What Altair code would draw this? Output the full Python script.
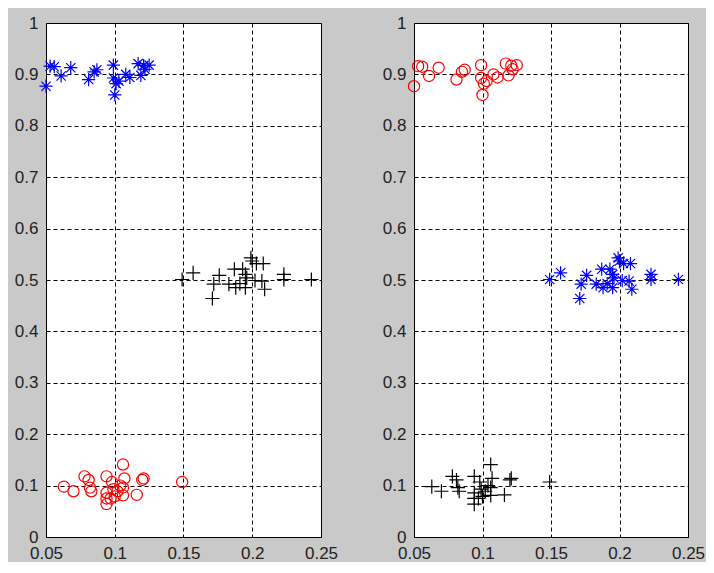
import altair as alt
import pandas as pd

# Cluster A (top)
top_x = [0.050, 0.053, 0.056, 0.061, 0.068, 0.081, 0.085, 0.087, 0.099, 0.099,
         0.100, 0.101, 0.103, 0.108, 0.111, 0.117, 0.119, 0.121, 0.125, 0.122]
top_y = [0.877, 0.916, 0.915, 0.897, 0.913, 0.890, 0.905, 0.909, 0.918, 0.893,
         0.860, 0.882, 0.887, 0.900, 0.894, 0.921, 0.898, 0.917, 0.918, 0.910]

# Cluster B (middle)
mid_x = [0.149, 0.157, 0.172, 0.171, 0.176, 0.183, 0.187, 0.188, 0.193, 0.195,
         0.196, 0.195, 0.191, 0.199, 0.200, 0.203, 0.208, 0.202, 0.207, 0.209,
         0.223, 0.223, 0.243]
mid_y = [0.501, 0.514, 0.492, 0.464, 0.509, 0.492, 0.521, 0.485, 0.521, 0.511,
         0.504, 0.485, 0.493, 0.543, 0.537, 0.532, 0.532, 0.499, 0.498, 0.482,
         0.511, 0.501, 0.501]

# Cluster C (bottom)
bot_x = [0.063, 0.070, 0.078, 0.081, 0.082, 0.083, 0.094, 0.098, 0.094, 0.094,
         0.094, 0.097, 0.099, 0.100, 0.102, 0.104, 0.106, 0.107, 0.106, 0.106,
         0.116, 0.120, 0.121, 0.149]
bot_y = [0.098, 0.089, 0.118, 0.111, 0.096, 0.089, 0.118, 0.107, 0.086, 0.075,
         0.064, 0.075, 0.093, 0.079, 0.089, 0.100, 0.141, 0.114, 0.081, 0.096,
         0.082, 0.111, 0.114, 0.107]

x_ticks = [0.05, 0.1, 0.15, 0.2, 0.25]
y_ticks = [0, 0.1, 0.2, 0.3, 0.4, 0.5, 0.6, 0.7, 0.8, 0.9, 1]

top = pd.DataFrame({"x": top_x, "y": top_y})
mid = pd.DataFrame({"x": mid_x, "y": mid_y})
bot = pd.DataFrame({"x": bot_x, "y": bot_y})

STAR = "M-1,0L1,0M0,-1L0,1M-0.7,-0.7L0.7,0.7M-0.7,0.7L0.7,-0.7"
PLUS = "M-1,0L1,0M0,-1L0,1"

blue_star = dict(shape=STAR, color="#0000ff", size=175)
black_plus = dict(shape=PLUS, color="#000000", size=200)
red_circle = dict(shape="circle", color="#ff0000", size=125)

xenc = alt.X("x:Q", scale=alt.Scale(domain=[0.05, 0.25], nice=False, zero=False),
             axis=alt.Axis(values=x_ticks, format="~g", title=None))
yenc = alt.Y("y:Q", scale=alt.Scale(domain=[0, 1], nice=False, zero=False),
             axis=alt.Axis(values=y_ticks, format="~g", title=None))


def layer(df, st):
    return alt.Chart(df).mark_point(
        shape=st["shape"], color=st["color"], size=st["size"],
        filled=False, strokeWidth=1.2, opacity=1
    ).encode(x=xenc, y=yenc)


left = alt.layer(layer(top, blue_star), layer(mid, black_plus), layer(bot, red_circle)).properties(width=275, height=514)
right = alt.layer(layer(top, red_circle), layer(mid, blue_star), layer(bot, black_plus)).properties(width=274, height=514)

chart = alt.hconcat(left, right, spacing=93, bounds="flush").properties(
    background="#c9c9c9",
    padding={"left": 5, "top": 5, "right": 0, "bottom": 0},
).configure_view(
    stroke="black", strokeWidth=1, fill="white"
).configure_axis(
    domain=False, ticks=False, grid=True, gridColor="black", gridDash=[4, 3],
    gridOpacity=1, gridWidth=1, labelFont="Liberation Sans", labelFontSize=17,
    labelColor="#222222", labelPadding=8, labelFlush=False, labelOverlap=False
)

chart.save("out.html", embed_options={"renderer": "svg", "actions": False})
